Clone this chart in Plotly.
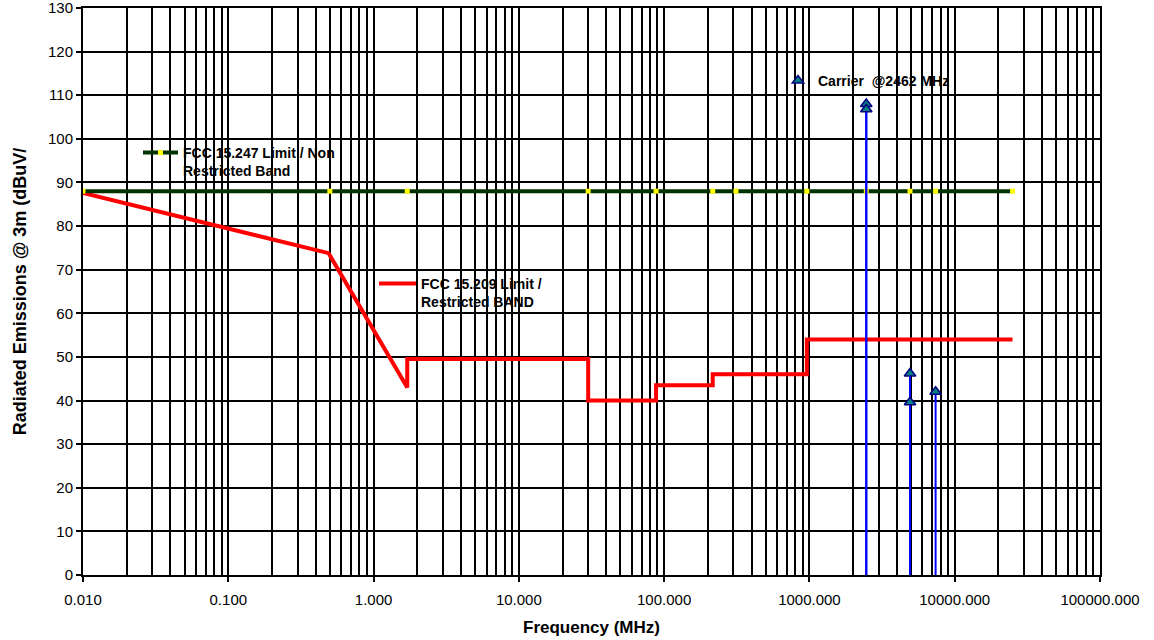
import plotly.graph_objects as go

# ---- data ----
limit247_freq = [0.01, 0.5, 1.705, 30, 88, 216, 312, 960, 2462, 4924, 7386, 25000]
limit247_val = [88, 88, 88, 88, 88, 88, 88, 88, 88, 88, 88, 88]

limit209_freq = [0.01, 0.49, 1.705, 1.705, 30, 30, 88, 88, 216, 216, 960, 960, 25000]
limit209_val = [87.6, 73.8, 43.0, 49.5, 49.5, 40.0, 40.0, 43.5, 43.5, 46.0, 46.0, 54.0, 54.0]

carrier_freq = [2462, 2462, 4924, 4924, 7386]
carrier_val = [108.0, 106.8, 46.2, 39.6, 42.0]

x_tickvals = [0.01, 0.1, 1, 10, 100, 1000, 10000, 100000]
x_ticktext = ["0.010", "0.100", "1.000", "10.000", "100.000", "1000.000", "10000.000", "100000.000"]
y_tickvals = list(range(0, 131, 10))

minor_vals = [m * 10.0 ** e for e in range(-2, 5) for m in range(2, 10)]

FONT = "Liberation Sans, Arial, sans-serif"

# plot area in pixels
W, H = 1154, 640
L, R, T, B = 83, 1100, 8, 575
def px(xp):
    return (xp - L) / (R - L)
def py(yp):
    return (B - yp) / (B - T)

fig = go.Figure()

fig.add_trace(go.Scatter(
    x=limit209_freq, y=limit209_val, mode="lines",
    line=dict(color="#ff0000", width=4),
    name="<b>FCC 15.209 Limit /<br>Restricted BAND</b>",
    legend="legend2", showlegend=True,
))

fig.add_trace(go.Scatter(
    x=limit247_freq, y=limit247_val, mode="lines+markers",
    line=dict(color="#003300", width=4),
    marker=dict(symbol="square", color="#ffff00", size=5, line=dict(width=0)),
    name="<b>FCC 15.247 Limit / Non<br>Restricted Band</b>",
    legend="legend", showlegend=True,
))

fig.add_trace(go.Scatter(
    x=carrier_freq, y=carrier_val, mode="markers",
    marker=dict(symbol="triangle-up", color="#008080", size=10,
                line=dict(color="#000080", width=1.5)),
    error_y=dict(type="data", symmetric=False, array=[0] * len(carrier_val),
                 arrayminus=carrier_val, color="#0000ff", thickness=2, width=0),
    name="<b>Carrier  @2462 MHz</b>",
    legend="legend3", showlegend=True,
))

legend_font = dict(family=FONT, size=14, color="black")

fig.update_layout(
    width=W, height=H,
    showlegend=True,
    margin=dict(l=L, r=W - R, t=T, b=H - B, autoexpand=False),
    paper_bgcolor="white", plot_bgcolor="white",
    font=dict(family=FONT, size=15, color="black"),
    legend=dict(x=px(138), y=py(137), xanchor="left", yanchor="top",
                bgcolor="rgba(0,0,0,0)", font=legend_font, itemwidth=35,
                valign="top", borderwidth=0, visible=True),
    legend2=dict(x=px(374), y=py(268), xanchor="left", yanchor="top",
                 bgcolor="rgba(0,0,0,0)", font=legend_font, itemwidth=37,
                 valign="top", borderwidth=0, visible=True),
    legend3=dict(x=px(778), y=py(65), xanchor="left", yanchor="top",
                 bgcolor="rgba(0,0,0,0)", font=legend_font, itemwidth=30,
                 borderwidth=0, visible=True),
    xaxis=dict(
        type="log", range=[-2, 5], automargin=False,
        tickvals=x_tickvals, ticktext=x_ticktext,
        ticks="outside", ticklen=5, tickwidth=2, tickcolor="black",
        ticklabelstandoff=5, ticklabeloverflow="allow",
        showgrid=True, gridcolor="black", gridwidth=2,
        minor=dict(tickvals=minor_vals, showgrid=True, gridcolor="black",
                   gridwidth=2, ticks=""),
        showline=True, linecolor="black", linewidth=2, mirror=True,
        zeroline=False,
        tickfont=dict(family=FONT, size=15),
        title=dict(text="<b>Frequency (MHz)</b>", font=dict(family=FONT, size=17),
                   standoff=14),
    ),
    yaxis=dict(
        range=[0, 130], tickvals=y_tickvals, automargin=False,
        ticks="outside", ticklen=5, tickwidth=2, tickcolor="black",
        ticklabeloverflow="allow",
        showgrid=True, gridcolor="black", gridwidth=2,
        showline=True, linecolor="black", linewidth=2, mirror=True,
        zeroline=False,
        tickfont=dict(family=FONT, size=15),
        title=dict(text="<b>Radiated Emissions @ 3m (dBuV/</b>",
                   font=dict(family=FONT, size=18), standoff=17),
    ),
)

fig.write_html("out.html", config={"displayModeBar": False},
               post_script="document.body.style.margin='0';")
